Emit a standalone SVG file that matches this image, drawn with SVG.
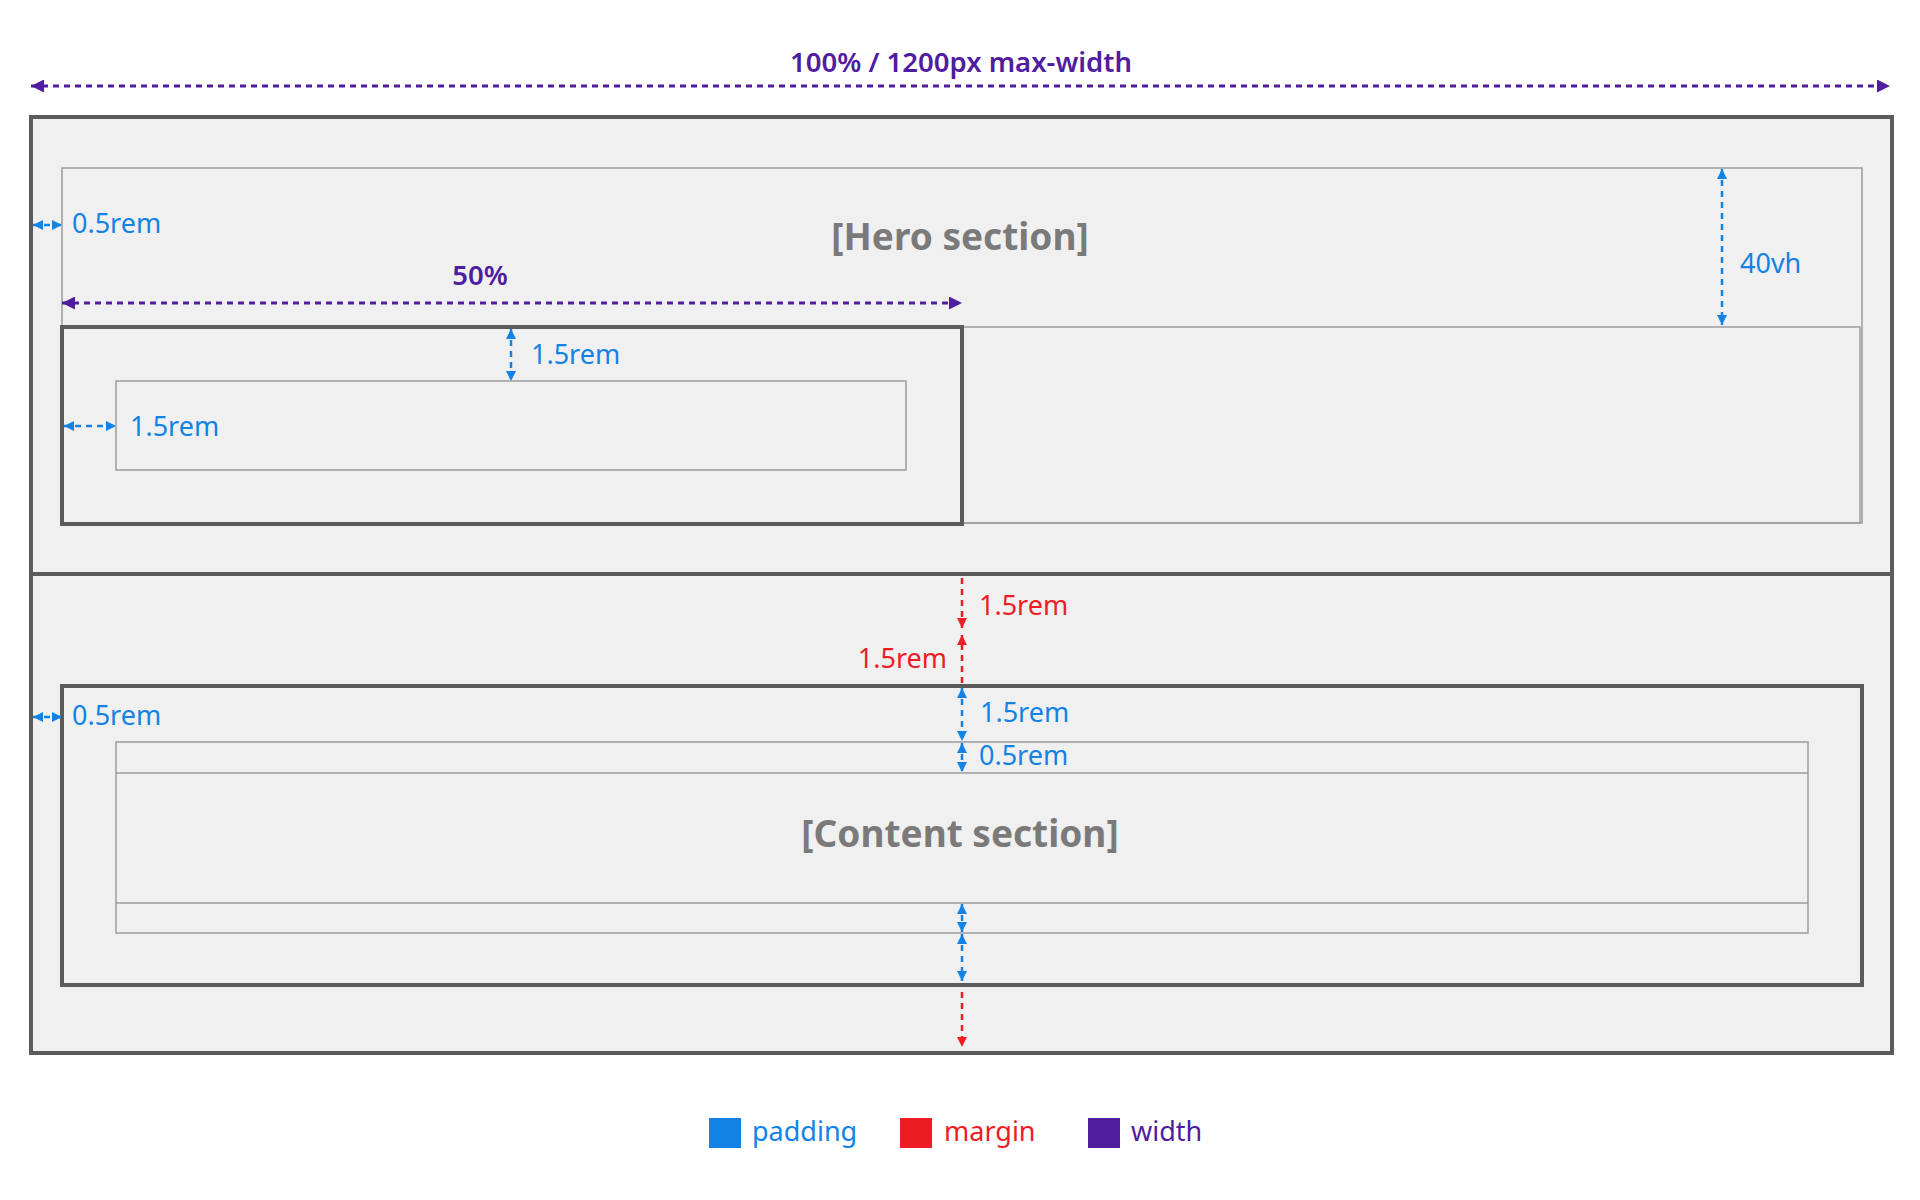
<svg xmlns="http://www.w3.org/2000/svg" width="1920" height="1200" viewBox="0 0 1920 1200">
<style>
.box{fill:#f0f0f0;stroke:#5b5b5b;stroke-width:4}
.thick{fill:none;stroke:#5b5b5b;stroke-width:4}
.thin{fill:none;stroke:#9c9c9c;stroke-width:1.5}
.pw{stroke:#4f1d9e;stroke-width:3;stroke-dasharray:6 5;fill:none}
.pd{stroke:#1283e4;stroke-width:2.5;stroke-dasharray:6 5;fill:none}
.mg{stroke:#ee1c25;stroke-width:2.5;stroke-dasharray:6 5;fill:none}
text{font-family:"Noto Sans","Open Sans",sans-serif}
.tw{fill:#4f1d9e;font-size:27.5px;font-weight:600}
.tp{fill:#1283e4;font-size:27px}
.tm{fill:#ee1c25;font-size:27px}
.sec{fill:#7a7a7a;font-size:37px;font-weight:700}
</style>
<defs>
<marker id="aw" viewBox="0 0 10 10" refX="10" refY="5" markerWidth="13" markerHeight="13" markerUnits="userSpaceOnUse" orient="auto-start-reverse"><path d="M0,0L10,5L0,10z" fill="#4f1d9e"/></marker>
<marker id="ap" viewBox="0 0 10 10" refX="10" refY="5" markerWidth="10" markerHeight="10" markerUnits="userSpaceOnUse" orient="auto-start-reverse"><path d="M0,0L10,5L0,10z" fill="#1283e4"/></marker>
<marker id="am" viewBox="0 0 10 10" refX="10" refY="5" markerWidth="10" markerHeight="10" markerUnits="userSpaceOnUse" orient="auto-start-reverse"><path d="M0,0L10,5L0,10z" fill="#ee1c25"/></marker>
</defs>
<g id="page">
<rect class="box" x="31" y="117" width="1861" height="936"/>
<line class="thick" x1="31" y1="574" x2="1892" y2="574"/>
</g>
<g id="hero">
<rect class="thin" x="62" y="168" width="1800" height="355"/>
<rect class="thin" x="62" y="327" width="1798" height="196"/>
<text class="sec" x="960" y="250" text-anchor="middle">[Hero section]</text>
</g>
<g id="hero-card">
<rect class="thick" x="62" y="327" width="900" height="197"/>
<rect class="thin" x="116" y="381" width="790" height="89"/>
</g>
<g id="content-card">
<rect class="thick" x="62" y="686" width="1800" height="299"/>
<rect class="thin" x="116" y="742" width="1692" height="191"/>
<line class="thin" x1="116" y1="773" x2="1808" y2="773"/>
<line class="thin" x1="116" y1="903" x2="1808" y2="903"/>
<text class="sec" x="960" y="847" text-anchor="middle">[Content section]</text>
</g>
<g id="connectors">
<line class="pw" x1="31" y1="86" x2="1890" y2="86" marker-start="url(#aw)" marker-end="url(#aw)"/>
<line class="pw" x1="62" y1="303" x2="962" y2="303" marker-start="url(#aw)" marker-end="url(#aw)"/>
<line class="pd" x1="33" y1="225" x2="62" y2="225" marker-start="url(#ap)" marker-end="url(#ap)"/>
<line class="pd" x1="1722" y1="169" x2="1722" y2="325" marker-start="url(#ap)" marker-end="url(#ap)"/>
<line class="pd" x1="511" y1="329" x2="511" y2="381" marker-start="url(#ap)" marker-end="url(#ap)"/>
<line class="pd" x1="64" y1="426" x2="116" y2="426" marker-start="url(#ap)" marker-end="url(#ap)"/>
<line class="mg" x1="962" y1="578" x2="962" y2="628" marker-end="url(#am)"/>
<line class="mg" x1="962" y1="683" x2="962" y2="635" marker-end="url(#am)"/>
<line class="pd" x1="962" y1="688" x2="962" y2="741" marker-start="url(#ap)" marker-end="url(#ap)"/>
<line class="pd" x1="962" y1="743" x2="962" y2="772" marker-start="url(#ap)" marker-end="url(#ap)"/>
<line class="pd" x1="33" y1="717" x2="62" y2="717" marker-start="url(#ap)" marker-end="url(#ap)"/>
<line class="pd" x1="962" y1="904" x2="962" y2="932" marker-start="url(#ap)" marker-end="url(#ap)"/>
<line class="pd" x1="962" y1="934" x2="962" y2="981" marker-start="url(#ap)" marker-end="url(#ap)"/>
<line class="mg" x1="962" y1="992" x2="962" y2="1047" marker-end="url(#am)"/>
</g>
<g id="labels">
<text class="tw" x="961" y="72" text-anchor="middle">100% / 1200px max-width</text>
<text class="tw" x="480" y="285" text-anchor="middle">50%</text>
<text class="tp" x="72" y="233">0.5rem</text>
<text class="tp" x="1740" y="273">40vh</text>
<text class="tp" x="531" y="364">1.5rem</text>
<text class="tp" x="130" y="436">1.5rem</text>
<text class="tm" x="979" y="615">1.5rem</text>
<text class="tm" x="947" y="668" text-anchor="end">1.5rem</text>
<text class="tp" x="980" y="722">1.5rem</text>
<text class="tp" x="72" y="725">0.5rem</text>
<text class="tp" x="979" y="765">0.5rem</text>
</g>
<g id="legend">
<rect x="709" y="1118" width="32" height="30" fill="#1283e4"/>
<text class="tp" x="752" y="1141">padding</text>
<rect x="900" y="1118" width="32" height="30" fill="#ee1c25"/>
<text class="tm" x="944" y="1141">margin</text>
<rect x="1088" y="1118" width="32" height="30" fill="#4f1d9e"/>
<text class="tw" x="1131" y="1141" style="font-weight:400;font-size:27px">width</text>
</g>
</svg>
